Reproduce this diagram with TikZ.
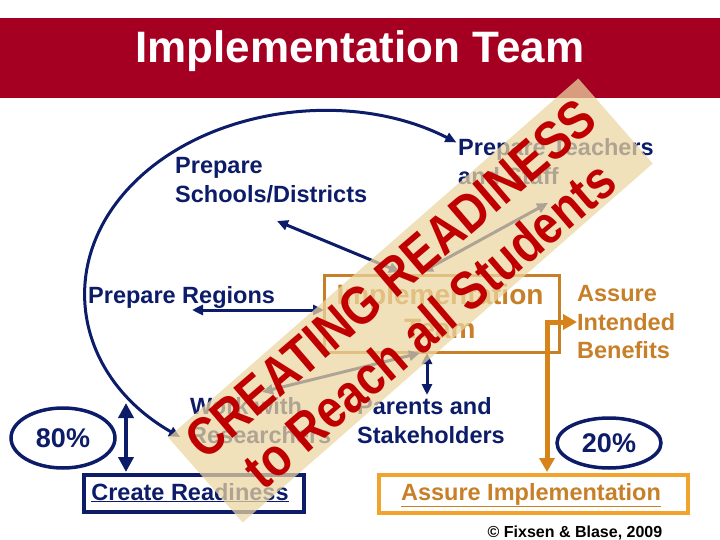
\documentclass[tikz,border=0pt]{standalone}
\usepackage{fontspec}
\setmainfont{Liberation Sans}
\usetikzlibrary{arrows.meta,shapes.geometric}
\definecolor{titlered}{RGB}{165,0,33}
\definecolor{navy}{RGB}{12,28,105}
\definecolor{teamorange}{RGB}{199,127,40}
\definecolor{assureorange}{RGB}{242,163,45}
\definecolor{arroworange}{RGB}{214,131,26}
\definecolor{bandbeige}{RGB}{236,215,163}
\definecolor{wmred}{RGB}{192,0,0}
\begin{document}
\begin{tikzpicture}[x=1pt,y=-1pt,
  lbl/.style={font=\fontsize{23.5}{28}\selectfont\bfseries, inner sep=0, anchor=base west, text=navy},
  olbl/.style={lbl, text=teamorange},
  navarrow/.style={draw=navy, line width=3pt, {Triangle[length=11pt,width=10pt]}-{Triangle[length=11pt,width=10pt]}},
  bigarrow/.style={draw=navy, line width=4.5pt, {Triangle[length=15pt,width=15pt]}-{Triangle[length=15pt,width=15pt]}},
  orarrow/.style={draw=arroworange, line width=5pt, {Triangle[length=14pt,width=15pt]}-{Triangle[length=14pt,width=15pt]}},
  pct/.style={draw=navy, ellipse, line width=3.5pt, inner sep=0, text=navy, font=\fontsize{27}{30}\selectfont\bfseries}
]
\useasboundingbox (0,0) rectangle (720,540);
\fill[white] (0,0) rectangle (720,540);

% title bar
\node[fill=titlered, minimum width=720pt, minimum height=80pt, inner sep=0, anchor=north west] (bar) at (0,18) {};
\node[text=white, font=\fontsize{44}{50}\selectfont\bfseries, inner sep=0, anchor=base] (title) at (360,63) {Implementation Team};

% labels
\node[lbl] (ps1) at (175,174) {Prepare};
\node[lbl] (ps2) at (175,203) {Schools/Districts};
\node[lbl] (pr) at (88,303) {Prepare Regions};
\node[lbl] (pt1) at (458,156) {Prepare Teachers};
\node[lbl] (pt2) at (458,185) {and Staff};
\node[lbl] (ww1) at (190,414) {Work with};
\node[lbl] (ww2) at (190,443) {Researchers};
\node[lbl] (pa1) at (357,414) {Parents and};
\node[lbl] (pa2) at (357,443) {Stakeholders};
\node[olbl] (ai1) at (577,301) {Assure};
\node[olbl] (ai2) at (577,330) {Intended};
\node[olbl] (ai3) at (577,358) {Benefits};

% team box
\node[draw=teamorange, line width=2.5pt, minimum width=235pt, minimum height=77pt, inner sep=0, anchor=north west] (teambox) at (323,274) {};
\node[lbl, text=teamorange, font=\fontsize{28}{32}\selectfont\bfseries, anchor=base] (tt1) at (440,304) {Implementation};
\node[lbl, text=teamorange, font=\fontsize{28}{32}\selectfont\bfseries, anchor=base] (tt2) at (440,338) {Team};

% bottom boxes
\node[draw=navy, line width=3.5pt, minimum width=220pt, minimum height=37pt, inner sep=0, anchor=north west] (crbox) at (82,473) {};
\node[lbl, anchor=base] (cr) at (190,500) {\underline{Create Readiness}};
\node[draw=assureorange, line width=3.5pt, minimum width=309pt, minimum height=38pt, inner sep=0, anchor=north west] (aibox) at (377,473) {};
\node[olbl, anchor=base] (aimp) at (531,500) {\underline{Assure Implementation}};

% percentages
\node[pct, minimum width=104pt, minimum height=60pt] (p80) at (63,438) {80\%};
\node[pct, minimum width=104pt, minimum height=50pt] (p20) at (609,443) {20\%};

% copyright
\node[font=\fontsize{16}{18}\selectfont\bfseries, inner sep=0, anchor=base] (copy) at (575,537) {© Fixsen \& Blase, 2009};

% coordinates
\coordinate (arcS) at (180,437);
\coordinate (tSchool) at (400,272);
\coordinate (hSchool) at (277,221);
\coordinate (tTeach) at (422,272);
\coordinate (hTeach) at (548,203);
\coordinate (tReg) at (324,310);
\coordinate (hReg) at (192,310);
\coordinate (tPar) at (427,353);
\coordinate (hPar) at (427,395);
\coordinate (tWork) at (420,353);
\coordinate (hWork) at (262,392);
\coordinate (v80a) at (126,403);
\coordinate (v80b) at (126,472);
\coordinate (oR) at (577,322);
\coordinate (oC) at (547,322);
\coordinate (oD) at (547,472);

% connectors
\draw[navarrow] (arcS) arc[start angle=127, end angle=304, x radius=238, y radius=181];
\draw[navarrow] (tSchool) -- (hSchool);
\draw[navarrow] (tTeach) -- (hTeach);
\draw[navarrow] (tReg) -- (hReg);
\draw[navarrow] (tPar) -- (hPar);
\draw[navarrow] (tWork) -- (hWork);
\draw[bigarrow] (v80a) -- (v80b);
\draw[orarrow] (oR) -- (oC) -- (oD);

% overlay band
\node[rotate=41.2, minimum width=545pt, minimum height=113pt, inner sep=0, fill=bandbeige, fill opacity=0.73] (band) at (410.5,300.5) {};
\node[rotate=40.5, align=center, inner sep=0, text=wmred, font=\fontsize{47}{60}\selectfont\bfseries] (wm) at (410,302) {\scalebox{0.98}[1.15]{CREATING READINESS}\\\scalebox{0.98}[1.15]{to Reach all Students}};
\end{tikzpicture}
\end{document}
